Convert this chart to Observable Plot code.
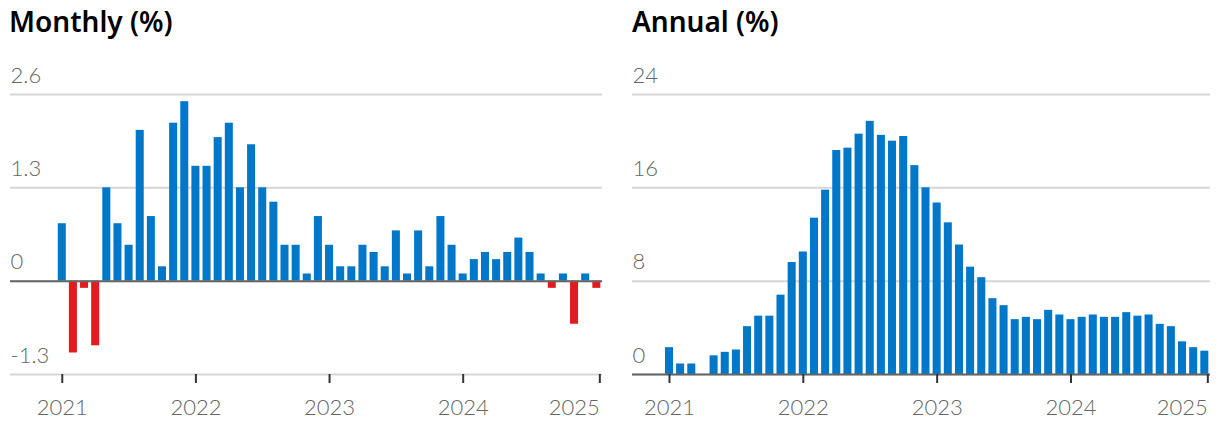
<!DOCTYPE html>
<html>
<head>
<meta charset="utf-8">
<script src="https://cdn.jsdelivr.net/npm/d3@7"></script>
<script src="https://cdn.jsdelivr.net/npm/@observablehq/plot@0.6"></script>
<style>
  html, body { margin: 0; padding: 0; background: #fff; }
  #wrap { display: flex; width: 1220px; height: 430px; overflow: hidden; }
  .panel { width: 610px; height: 430px; }
  .title {
    font-family: "Noto Sans", sans-serif; font-weight: 600; font-size: 28px;
    color: #000; height: 50px; box-sizing: border-box; padding-top: 3px; line-height: 36px;
  }
  svg { display: block; }
</style>
</head>
<body>
<div id="wrap">
  <div class="panel" id="left"><div class="title" style="padding-left:9px">Monthly (%)</div></div>
  <div class="panel" id="right"><div class="title" style="padding-left:22px">Annual (%)</div></div>
</div>
<script>
const months = [
  "2021-01","2021-02","2021-03","2021-04","2021-05","2021-06","2021-07","2021-08","2021-09","2021-10","2021-11","2021-12",
  "2022-01","2022-02","2022-03","2022-04","2022-05","2022-06","2022-07","2022-08","2022-09","2022-10","2022-11","2022-12",
  "2023-01","2023-02","2023-03","2023-04","2023-05","2023-06","2023-07","2023-08","2023-09","2023-10","2023-11","2023-12",
  "2024-01","2024-02","2024-03","2024-04","2024-05","2024-06","2024-07","2024-08","2024-09","2024-10","2024-11","2024-12",
  "2025-01"
];
const monthlyValues = [
  0.8, -1.0, -0.1, -0.9, 1.3, 0.8, 0.5, 2.1, 0.9, 0.2, 2.2, 2.5,
  1.6, 1.6, 2.0, 2.2, 1.3, 1.9, 1.3, 1.1, 0.5, 0.5, 0.1, 0.9,
  0.5, 0.2, 0.2, 0.5, 0.4, 0.2, 0.7, 0.1, 0.7, 0.2, 0.9, 0.5,
  0.1, 0.3, 0.4, 0.3, 0.4, 0.6, 0.4, 0.1, -0.1, 0.1, -0.6, 0.1,
  -0.1
];
const annualValues = [
  2.3, 0.9, 0.9, 0.0, 1.6, 1.9, 2.1, 4.1, 5.0, 5.0, 6.8, 9.6,
  10.5, 13.4, 15.8, 19.2, 19.4, 20.6, 21.7, 20.5, 20.0, 20.4, 17.9, 16.0,
  14.7, 13.0, 11.1, 9.2, 8.3, 6.5, 5.9, 4.7, 4.9, 4.7, 5.5, 5.1,
  4.7, 4.9, 5.1, 4.9, 4.9, 5.3, 5.0, 5.1, 4.3, 4.1, 2.8, 2.3,
  2.0
];
const yearTicks = ["2021-01","2022-01","2023-01","2024-01","2025-01"];
const monthlyTicks = [-1.3, 0, 1.3, 2.6];
const annualTicks = [0, 8, 16, 24];

const BLUE = "#0077c8";
const RED = "#e31b1f";

const monthlyRows = months.map((m, i) => ({month: m, value: monthlyValues[i]}));
const annualRows = months.map((m, i) => ({month: m, value: annualValues[i]}));

function makeChart(rows, yDomain, yTicks, opts) {
  const lastTick = yearTicks[yearTicks.length - 1];
  const axisText = {fill: "#666", fontWeight: 300};
  return Plot.plot({
    width: 610,
    height: 380,
    marginLeft: opts.marginLeft,
    marginRight: opts.marginRight,
    marginTop: 44,
    marginBottom: 56,
    x: {type: "band", domain: months, paddingInner: 0.28, paddingOuter: 0.14, round: false,
        insetLeft: opts.insetLeft, insetRight: opts.insetRight, label: null},
    y: {domain: yDomain, label: null},
    style: {fontFamily: "Lato, Roboto, sans-serif", fontSize: "22px", color: "#666", background: "#fff", overflow: "visible"},
    marks: [
      Plot.gridY(yTicks, {stroke: "#d6d6d6", strokeOpacity: 1, strokeWidth: 2}),
      Plot.axisY(yTicks, {tickSize: 0, tickPadding: 0, textAnchor: "start", dy: -19, label: null,
        tickFormat: d => String(d), ...axisText}),
      Plot.barY(rows.filter(d => d.value >= 0), {x: "month", y: "value", fill: BLUE}),
      Plot.barY(rows.filter(d => d.value < 0), {x: "month", y: "value", fill: RED}),
      Plot.ruleY([0], {stroke: "#666", strokeWidth: 2}),
      Plot.axisX(yearTicks.slice(0, -1), {tickSize: 9, tickPadding: 16, tickFormat: d => d.slice(0, 4), label: null,
        stroke: "#333", strokeWidth: 2, ...axisText}),
      Plot.axisX([lastTick], {tickSize: 9, tickPadding: 16, tickFormat: d => d.slice(0, 4), label: null,
        textAnchor: "end", dx: 3, stroke: "#333", strokeWidth: 2, ...axisText})
    ]
  });
}

document.getElementById("left").appendChild(
  makeChart(monthlyRows, [-1.3, 2.6], monthlyTicks,
    {marginLeft: 10, marginRight: 8, insetLeft: 46.2, insetRight: 0.1}));
document.getElementById("right").appendChild(
  makeChart(annualRows, [0, 24], annualTicks,
    {marginLeft: 22, marginRight: 10, insetLeft: 31.4, insetRight: 0.1}));
</script>
</body>
</html>
